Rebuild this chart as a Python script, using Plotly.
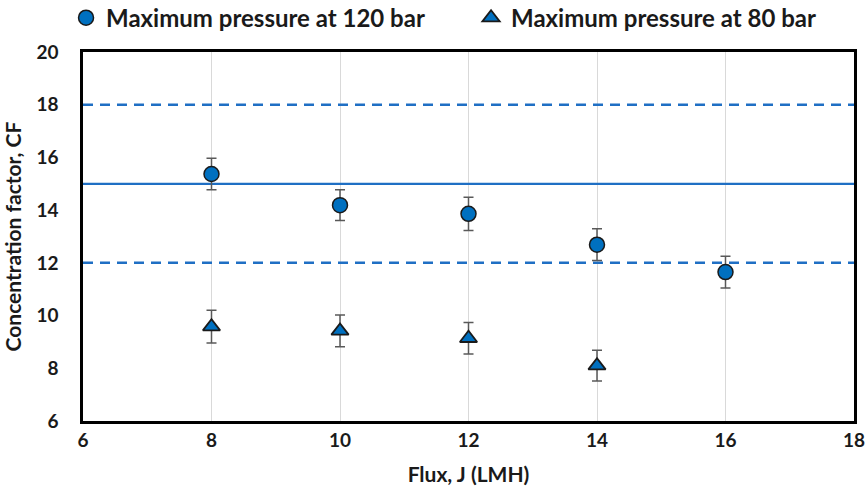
import plotly.graph_objects as go

flux = [8, 10, 12, 14, 16]
cf_120 = [15.37, 14.19, 13.86, 12.69, 11.65]
err_120 = [0.6, 0.58, 0.63, 0.6, 0.6]
flux_80 = [8, 10, 12, 14]
cf_80 = [9.58, 9.42, 9.14, 8.1]
err_80 = [0.62, 0.6, 0.6, 0.58]
ref_solid = 15
ref_dashed = [18, 12]
x_range = [6, 18]
y_range = [6, 20]

BLUE = "#0070C0"
LINE = "#1F6FC4"
FONT = "Lato"

fig = go.Figure()
fig.add_trace(go.Scatter(x=x_range, y=[ref_solid, ref_solid], mode="lines",
                         line=dict(color=LINE, width=2.2), showlegend=False, hoverinfo="skip"))
for v in ref_dashed:
    fig.add_trace(go.Scatter(x=x_range, y=[v, v], mode="lines",
                             line=dict(color=LINE, width=2.5, dash="10px,7px"),
                             showlegend=False, hoverinfo="skip"))

fig.add_trace(go.Scatter(
    x=flux, y=cf_120, mode="markers", name="Maximum pressure at 120 bar",
    marker=dict(symbol="circle", size=15, color=BLUE, line=dict(color="#1a1a1a", width=1.5)),
    error_y=dict(type="data", array=err_120, color="#595959", thickness=1.5, width=5)))
fig.add_trace(go.Scatter(
    x=flux_80, y=cf_80, mode="markers", name="Maximum pressure at 80 bar",
    marker=dict(symbol="triangle-up", size=15, color=BLUE, line=dict(color="#1a1a1a", width=1.8)),
    error_y=dict(type="data", array=err_80, color="#595959", thickness=1.5, width=5)))

fig.update_layout(
    width=865, height=498,
    margin=dict(l=83, r=11, t=52, b=77, autoexpand=False),
    paper_bgcolor="white", plot_bgcolor="white",
    font=dict(family=FONT, color="#1a1a1a"),
    legend=dict(orientation="h", x=-0.022, xanchor="left", y=1.092, yanchor="middle",
                font=dict(family=FONT, size=24, color="#1a1a1a", weight="bold"),
                itemwidth=30, entrywidth=360, entrywidthmode="pixels",
                bgcolor="rgba(0,0,0,0)", tracegroupgap=0),
    xaxis=dict(range=x_range, dtick=2, tick0=6, showgrid=True, gridcolor="#d9d9d9", gridwidth=1.2,
               showline=True, linecolor="black", linewidth=2.5, mirror=True, zeroline=False,
               ticks="", ticklabeloverflow="allow", tickfont=dict(size=19, weight="bold"),
               title=dict(text="Flux, J (LMH)", font=dict(size=21, weight="bold"), standoff=18)),
    yaxis=dict(range=y_range, dtick=2, tick0=6, showgrid=False,
               showline=True, linecolor="black", linewidth=2.5, mirror=True, zeroline=False,
               ticks="", ticklabelstandoff=18, ticklabeloverflow="allow", tickfont=dict(size=19, weight="bold"),
               title=dict(text="Concentration factor, CF", font=dict(size=21, weight="bold"), standoff=12)),
)

fig.write_html("out.html")
